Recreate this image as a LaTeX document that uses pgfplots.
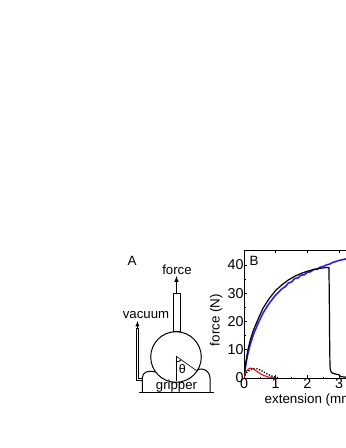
\documentclass[border=0pt]{standalone}
\usepackage{pgfplots}
\pgfplotsset{compat=1.18}
\usepackage{fontspec}
\setmainfont{Liberation Sans}
\definecolor{bluec}{RGB}{50,30,235}
\definecolor{redc}{RGB}{225,30,40}
\begin{document}
\begin{tikzpicture}
\clip (0,0) rectangle (346pt,448pt);
\fill[white] (0,0) rectangle (346pt,448pt);
\begin{axis}[
  at={(244pt,70pt)}, anchor=south west, scale only axis,
  width=126.8pt, height=128pt,
  xmin=0, xmax=4, ymin=0, ymax=45.3,
  xtick={0,1,2,3,4}, ytick={0,10,20,30,40},
  minor x tick num=1, minor y tick num=1,
  tick align=inside,
  major tick length=3pt, minor tick length=1.5pt,
  tick style={black,line width=0.6pt},
  axis line style={line width=0.9pt},
  tick label style={font=\fontsize{14.3}{14.3}\selectfont,/pgf/number format/assume math mode=true},
  xticklabel style={yshift=2.8pt},
  yticklabel style={xshift=3pt},
  xlabel={extension (mm)}, ylabel={force (N)},
  label style={font=\fontsize{13.4}{14}\selectfont},
  xlabel style={at={(axis description cs:0.135,-0.175)},anchor=west},
  ylabel style={at={(axis description cs:-0.22,0.453)},anchor=center},
  clip=true,
]
\addplot[bluec,line width=1.6pt] coordinates {(0,0)(0.03,2.5)(0.07,5.5)(0.12,8.5)(0.2,12)(0.3,15.5)(0.45,19.5)(0.6,23)(0.8,26.5)(1,29.4)(1.2,31.6)(1.3,32.3)(1.4,33.6)(1.5,34)(1.6,35.2)(1.7,35.4)(1.8,36.4)(1.9,36.5)(2,37.4)(2.1,37.6)(2.2,38.4)(2.3,38.5)(2.4,39.2)(2.5,39.5)(2.6,40)(2.7,40.3)(2.8,40.9)(3,41.6)(3.2,42.1)(3.4,42.4)};
\addplot[black,line width=1.2pt] coordinates {(0,0)(0.03,3.5)(0.07,6.5)(0.12,9.8)(0.2,13.5)(0.3,17)(0.45,21)(0.6,24.7)(0.8,28.2)(1,31)(1.2,33)(1.4,34.7)(1.6,36)(1.8,37)(2,37.8)(2.2,38.4)(2.4,38.8)(2.6,39.1)(2.68,39)(2.69,30)(2.7,15)(2.71,6)(2.72,3)(2.76,1.9)(2.85,1.5)(3,1.1)(3.05,0.5)(3.2,0.3)(3.4,0.2)};
\addplot[redc,line width=1.2pt] coordinates {(0,0)(0.04,1.5)(0.08,2.5)(0.14,3.2)(0.2,3.5)(0.28,3.3)(0.35,2.8)(0.45,2)(0.55,1.3)(0.65,0.8)(0.75,0.4)(0.85,0.2)(1,0.05)};
\addplot[black,line width=1.4pt,dash pattern=on 1.2pt off 1.6pt] coordinates {(0,0)(0.05,1.3)(0.1,2.1)(0.2,2.9)(0.3,3.3)(0.4,3.3)(0.5,2.9)(0.6,2.3)(0.7,1.6)(0.8,1.05)(0.9,0.6)(1,0.25)(1.1,0.05)};
\end{axis}
\node[font=\fontsize{13.4}{14}\selectfont,anchor=center] at (254pt,187.5pt) {B};
\begin{scope}[shift={(0,448pt)},x=1pt,y=-1pt]
\node[font=\fontsize{13.4}{14}\selectfont] at (132,261) {A};
\node[font=\fontsize{13.2}{14}\selectfont] at (177,270) {force};
\node[font=\fontsize{13.2}{14}\selectfont] at (146,315) {vacuum};
\draw[line width=1pt] (139,393)--(214,393);
\draw[line width=1pt] (142.3,393)--(142.3,378) .. controls (142.5,372) and (148,370) .. (155,372);
\draw[line width=1pt] (210,393)--(210,378) .. controls (209.5,371) and (204,367) .. (197,370);
\draw[line width=1pt] (173.3,332)--(173.3,293.5)--(180.7,293.5)--(180.7,332)--cycle;
\draw[line width=1pt] (176,357) circle (25.3);
\draw[line width=0.6pt] (176,356)--(176,381);
\draw[line width=0.6pt] (176,356)--(197,371);
\draw[line width=0.8pt] (176,362) .. controls (178,362) and (180,361) .. (181,360);
\node[font=\fontsize{12.5}{12}\selectfont] at (182.3,369.5) {θ};
\node[font=\fontsize{13.2}{14}\selectfont] at (176.5,386) {gripper};
\draw[line width=0.9pt] (138.7,328)--(138.7,378)--(142.3,378);
\draw[line width=0.9pt] (136,328)--(136,380.5)--(142.3,380.5);
\draw[-{latex},line width=0.9pt] (137.4,329)--(137.4,321);
\draw[-{latex},line width=1pt] (176.5,293.5)--(176.5,276);
\end{scope}
\end{tikzpicture}
\end{document}
